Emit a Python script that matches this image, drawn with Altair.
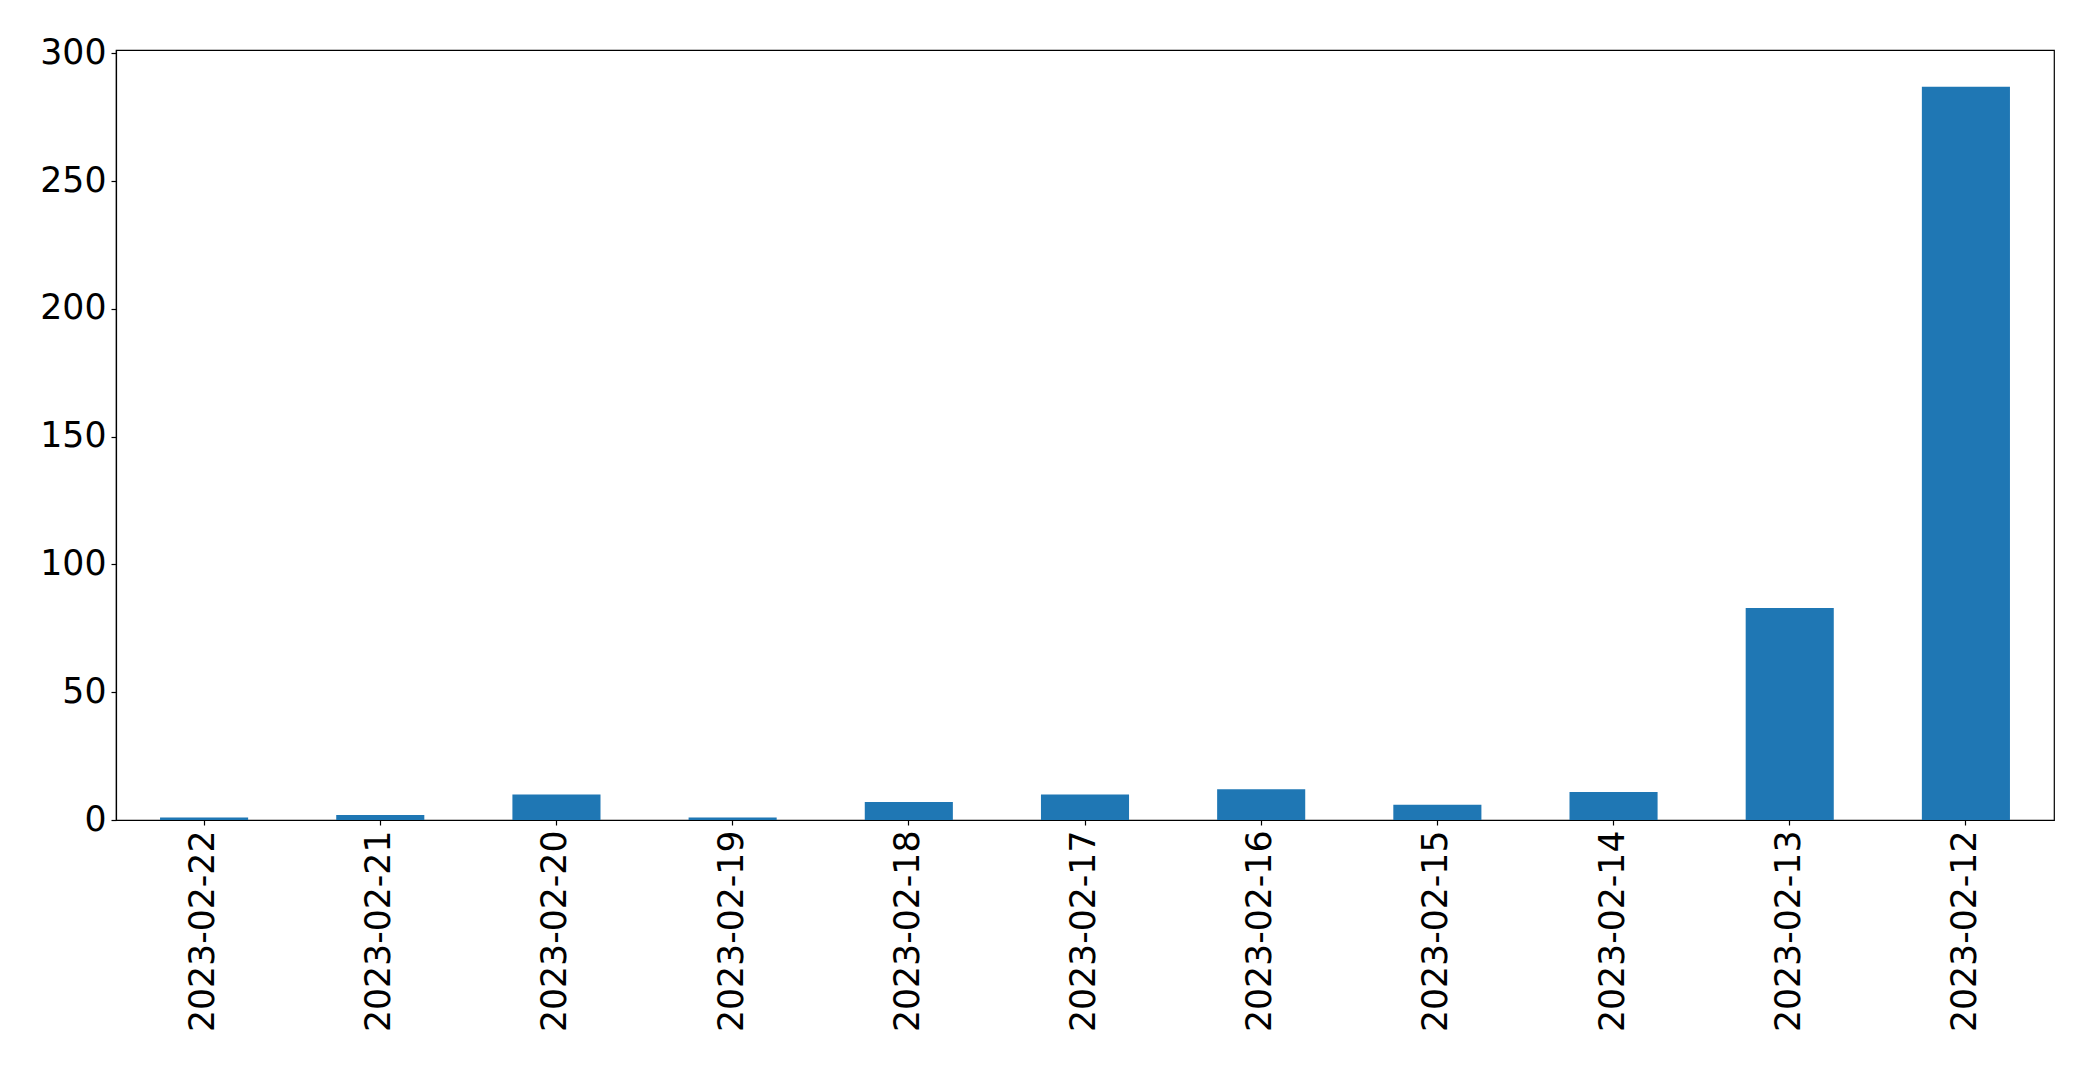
import altair as alt
import pandas as pd

dates = ["2023-02-22", "2023-02-21", "2023-02-20", "2023-02-19", "2023-02-18",
         "2023-02-17", "2023-02-16", "2023-02-15", "2023-02-14", "2023-02-13", "2023-02-12"]
counts = [1, 2, 10, 1, 7, 10, 12, 6, 11, 83, 287]
y_ticks = [0, 50, 100, 150, 200, 250, 300]

df = pd.DataFrame({"date": dates, "count": counts})

FONT = "DejaVu Sans"
FS = 34.7

chart = alt.Chart(df).mark_bar(color="#1f77b4").encode(
    x=alt.X("date:N", sort=dates, title=None,
            scale=alt.Scale(paddingInner=0.5, paddingOuter=0.25),
            axis=alt.Axis(labelAngle=270, labelFont=FONT, labelFontSize=FS,
                          labelColor="black", tickColor="black", domainColor="black",
                          tickSize=5, labelPadding=5, tickWidth=1.2, labelLimit=1000)),
    y=alt.Y("count:Q", title=None,
            scale=alt.Scale(domain=[0, 301.35], nice=False, zero=True),
            axis=alt.Axis(values=y_ticks, labelFont=FONT, labelFontSize=FS,
                          labelColor="black", tickColor="black", domainColor="black",
                          tickSize=5, labelPadding=5, grid=False, tickWidth=1.2)),
).properties(
    width=1938, height=770,
    autosize=alt.AutoSizeParams(type="none"),
    padding={"left": 108, "top": 42, "right": 30, "bottom": 230},
).configure_view(
    stroke="black", strokeWidth=1.2
).configure_axis(
    domainWidth=1.2
)

chart.save("out.html", embed_options={"renderer": "svg", "actions": False})
